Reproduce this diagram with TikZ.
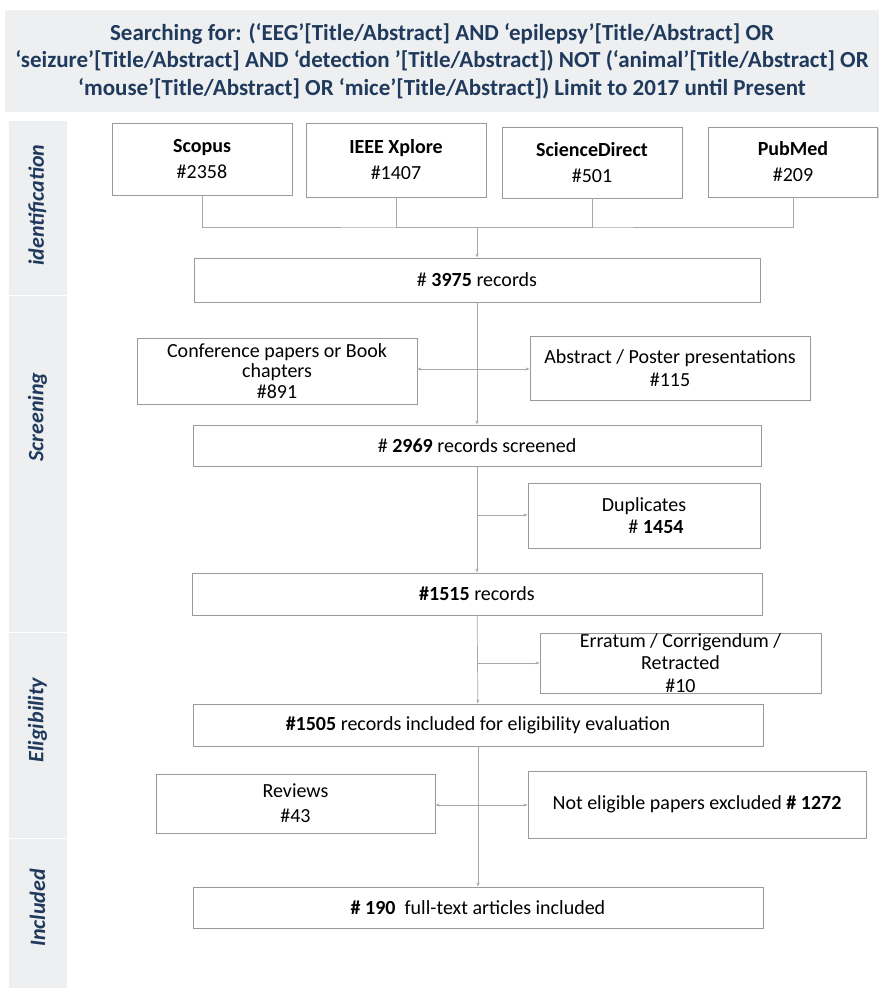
\documentclass[tikz,border=0pt]{standalone}
\usepackage{fontspec}
\setmainfont{Carlito}
\usetikzlibrary{arrows.meta,shadows}
\definecolor{navy}{HTML}{1F3A5C}
\definecolor{bandgray}{HTML}{EEEFF1}
\definecolor{edge}{HTML}{9A9A9A}
\definecolor{wire}{HTML}{A8A8A8}
\begin{document}
\begin{tikzpicture}[x=1pt,y=-1pt,
  box/.style={draw=edge, fill=white, line width=0.9pt, align=center, inner sep=0pt,
    font=\fontsize{20}{22.5}\selectfont,
    drop shadow={shadow xshift=1.2pt, shadow yshift=-1.2pt, opacity=0.35}},
  source/.style={box, font=\fontsize{20}{26}\selectfont},
  band/.style={fill=bandgray, draw=white, line width=1pt, minimum width=59},
  phase/.style={rotate=90, text=navy, font=\fontsize{22}{24}\selectfont\bfseries\itshape},
  line/.style={draw=wire, line width=0.7pt},
  arrow/.style={line, -{Stealth[length=4pt,width=3pt]}}]
\useasboundingbox (0,0) rectangle (879,993);

% query
\node[fill=bandgray, minimum width=874, minimum height=102, align=center, text=navy,
  font=\fontsize{23}{27.5}\selectfont\bfseries] (query) at (442,61)
  {Searching for: (‘EEG’[Title/Abstract] AND ‘epilepsy’[Title/Abstract] OR\\
   ‘seizure’[Title/Abstract] AND ‘detection ’[Title/Abstract]) NOT (‘animal’[Title/Abstract] OR\\
   ‘mouse’[Title/Abstract] OR ‘mice’[Title/Abstract]) Limit to 2017 until Present};

% phases
\node[band, minimum height=175] (bident) at (37.5,207.5) {};
\node[band, minimum height=337] (bscreen) at (37.5,463.5) {};
\node[band, minimum height=206] (belig) at (37.5,735) {};
\node[band, minimum height=150] (bincl) at (37.5,913) {};
\node[phase] (pident) at (37.5,205) {identification};
\node[phase] (pscreen) at (37.5,417) {Screening};
\node[phase] (pelig) at (37.5,720) {Eligibility};
\node[phase] (pincl) at (37.5,908) {Included};

% databases
\node[source, minimum width=180, minimum height=72] (scopus) at (202,159) {\textbf{Scopus}\\\#2358};
\node[source, minimum width=180, minimum height=74] (ieee) at (396,160) {\textbf{IEEE Xplore}\\\#1407};
\node[source, minimum width=180, minimum height=71] (sd) at (592,162.5) {\textbf{ScienceDirect}\\\#501};
\node[source, minimum width=169, minimum height=70] (pubmed) at (793,162) {\textbf{PubMed}\\\#209};
\coordinate (bus) at (477,227);

% records
\node[box, minimum width=566, minimum height=44] (r3975) at (477,280) {\# \textbf{3975} records};
\node[box, minimum width=280, minimum height=66, font=\fontsize{20}{20.5}\selectfont] (conf) at (277,371) {Conference papers or Book\\chapters\\\#891};
\node[box, minimum width=280, minimum height=64] (abstr) at (670,368) {Abstract / Poster presentations\\\#115};
\node[box, minimum width=568, minimum height=41] (r2969) at (477,445.5) {\# \textbf{2969} records screened};
\node[box, minimum width=232, minimum height=65] (dup) at (644,515.5) {Duplicates\\\hspace{1.2em}\# \textbf{1454}};
\node[box, minimum width=570, minimum height=42] (r1515) at (477,594) {\textbf{\#1515} records};
\node[box, minimum width=281, minimum height=60] (errat) at (680.5,663) {Erratum / Corrigendum /\\Retracted\\\#10};
\node[box, minimum width=570, minimum height=42] (r1505) at (478,725) {\textbf{\#1505} records included for eligibility evaluation};
\node[box, minimum width=279, minimum height=59, font=\fontsize{20}{25}\selectfont] (rev) at (295.5,803.5) {Reviews\\\#43};
\node[box, minimum width=338, minimum height=67] (notel) at (697,804.5) {Not eligible papers excluded \textbf{\# 1272}};
\node[box, minimum width=570, minimum height=41] (r190) at (478,907.5) {\textbf{\# 190}\ \ full-text articles included};

\coordinate (s1) at (477,369);
\coordinate (s2) at (477,515);
\coordinate (s3) at (477,663);
\coordinate (s4) at (477,805);

\path[line] (scopus.south) |- (bus) -| (pubmed.south);
\path[line] (ieee.south) |- (bus);
\path[line] (sd.south) |- (bus);
\path[arrow] (bus) -- (r3975);
\path[arrow] (r3975) -- (r2969);
\path[arrow] (r2969) -- (r1515);
\path[arrow] (r1515) -- (r1505);
\path[arrow] (r1505) -- (r190);
\path[arrow] (s1) -- (s1 -| conf.east);
\path[arrow] (s1) -- (s1 -| abstr.west);
\path[arrow] (s2) -- (s2 -| dup.west);
\path[arrow] (s3) -- (s3 -| errat.west);
\path[arrow] (s4) -- (s4 -| rev.east);
\path[arrow] (s4) -- (s4 -| notel.west);
\end{tikzpicture}
\end{document}
